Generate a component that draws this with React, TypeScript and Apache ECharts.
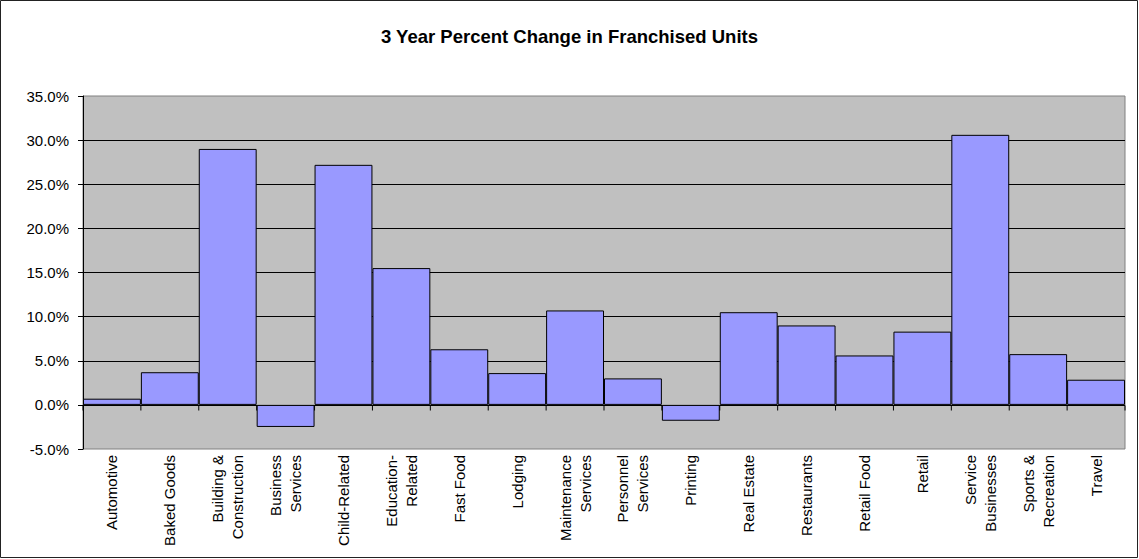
import React, { useEffect, useRef } from "react";
import * as echarts from "echarts";

const categories = [
  "Automotive",
  "Baked Goods",
  "Building &\nConstruction",
  "Business\nServices",
  "Child-Related",
  "Education-\nRelated",
  "Fast Food",
  "Lodging",
  "Maintenance\nServices",
  "Personnel\nServices",
  "Printing",
  "Real Estate",
  "Restaurants",
  "Retail Food",
  "Retail",
  "Service\nBusinesses",
  "Sports &\nRecreation",
  "Travel",
];

const changePercent = [
  0.7, 3.7, 29.0, -2.5, 27.2, 15.5, 6.3, 3.6, 10.7, 3.0, -1.8, 10.5, 9.0, 5.6, 8.3, 30.6, 5.75, 2.85,
];

const titleText = "3 Year Percent Change in Franchised Units";
const yMin = -5;
const yMax = 35;
const yStep = 5;

export default function App() {
  const ref = useRef<HTMLDivElement>(null);

  useEffect(() => {
    document.body.style.margin = "0";
    const chart = echarts.init(ref.current!, null, { renderer: "svg" });
    const font = "'Liberation Sans', Arial, sans-serif";
    const tickLen = 5;
    chart.setOption({
      animation: false,
      backgroundColor: "#ffffff",
      title: {
        text: titleText,
        left: "center",
        top: 22,
        textStyle: {
          fontFamily: "'Liberation Sans Narrow', 'Liberation Sans', Arial, sans-serif",
          fontWeight: "bold",
          fontSize: 18.5,
          color: "#000",
        },
      },
      graphic: [
        {
          type: "rect",
          shape: { x: 0.5, y: 0.5, width: 1137, height: 557 },
          style: { fill: "none", stroke: "#222", lineWidth: 1 },
          silent: true,
          z: 100,
        },
      ],
      grid: {
        left: 83,
        right: 14,
        top: 96,
        bottom: 110,
        outerBoundsMode: "none",
        containLabel: false,
        show: true,
        backgroundColor: "#C0C0C0",
        borderColor: "#808080",
        borderWidth: 1,
      },
      xAxis: {
        type: "category",
        data: categories,
        position: "bottom",
        axisLine: { show: false, onZero: false },
        axisTick: { show: false },
        axisLabel: {
          rotate: 90,
          interval: 0,
          margin: 6,
          fontFamily: font,
          fontSize: 15,
          lineHeight: 20,
          color: "#000",
        },
        splitLine: { show: false },
      },
      yAxis: {
        type: "value",
        min: yMin,
        max: yMax,
        interval: yStep,
        axisLine: { show: true, lineStyle: { color: "#000" } },
        axisTick: { show: true, inside: false, length: 5, lineStyle: { color: "#000" } },
        axisLabel: {
          formatter: (v: number) => v.toFixed(1) + "%",
          fontFamily: font,
          fontSize: 15,
          color: "#000",
          margin: 14,
        },
        splitLine: {
          show: true,
          showMinLine: false,
          showMaxLine: false,
          lineStyle: { color: "#000", width: 1 },
        },
      },
      series: [
        {
          type: "bar",
          data: changePercent,
          barCategoryGap: "0%",
          itemStyle: { color: "#9999FF", borderColor: "#000", borderWidth: 1 },
        },
        {
          type: "custom",
          silent: true,
          z: 10,
          data: categories.map((_, i) => [i, 0]),
          encode: { x: 0, y: 1 },
          renderItem: (params: any, api: any) => {
            const idx = api.value(0);
            const p = api.coord([idx, 0]);
            const w = api.size([1, 0])[0];
            const y0 = Math.round(p[1]) + 0.5;
            const xs = [p[0] - w / 2];
            if (idx === categories.length - 1) xs.push(p[0] + w / 2);
            return {
              type: "group",
              children: xs.map((x) => ({
                type: "line",
                shape: { x1: x, y1: y0, x2: x, y2: y0 + tickLen },
                style: { stroke: "#000", lineWidth: 1 },
              })),
            };
          },
        },
      ],
    });
    return () => chart.dispose();
  }, []);

  return <div ref={ref} style={{ width: 1139, height: 559 }} />;
}
